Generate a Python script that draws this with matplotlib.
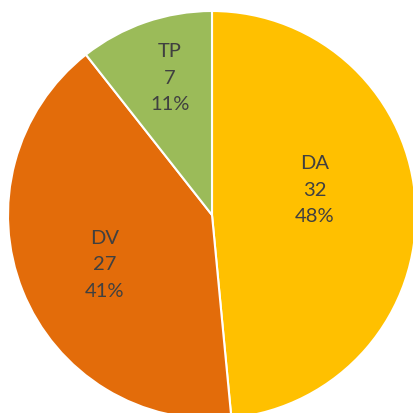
import matplotlib.pyplot as plt

categories = ['DA', 'DV', 'TP']
counts = [32, 27, 7]
colors = ['#FFC000', '#E36C0A', '#9BBB59']
# label offsets from the centre, in units of the radius
label_pos = [(0.505, 0.127), (-0.525, -0.24), (-0.206, 0.676)]

total = sum(counts)

fig = plt.figure(figsize=(4.14, 4.14), dpi=100)
ax = fig.add_axes([0, 0, 1, 1])
ax.pie(counts, colors=colors, startangle=90, counterclock=False, radius=1,
       wedgeprops=dict(edgecolor='white', linewidth=1.5))

for name, n, (x, y) in zip(categories, counts, label_pos):
    pct = round(n / total * 100)
    ax.text(x, y, f"{name}\n{n}\n{pct}%", ha='center', va='center',
            fontsize=14.5, color='#404040', family='Lato', linespacing=1.65)

ax.set_xlim(-212 / 204, 202 / 204)
ax.set_ylim(-198 / 204, 216 / 204)
ax.set_aspect('equal')
ax.axis('off')

fig.savefig('out.png', dpi=100)
